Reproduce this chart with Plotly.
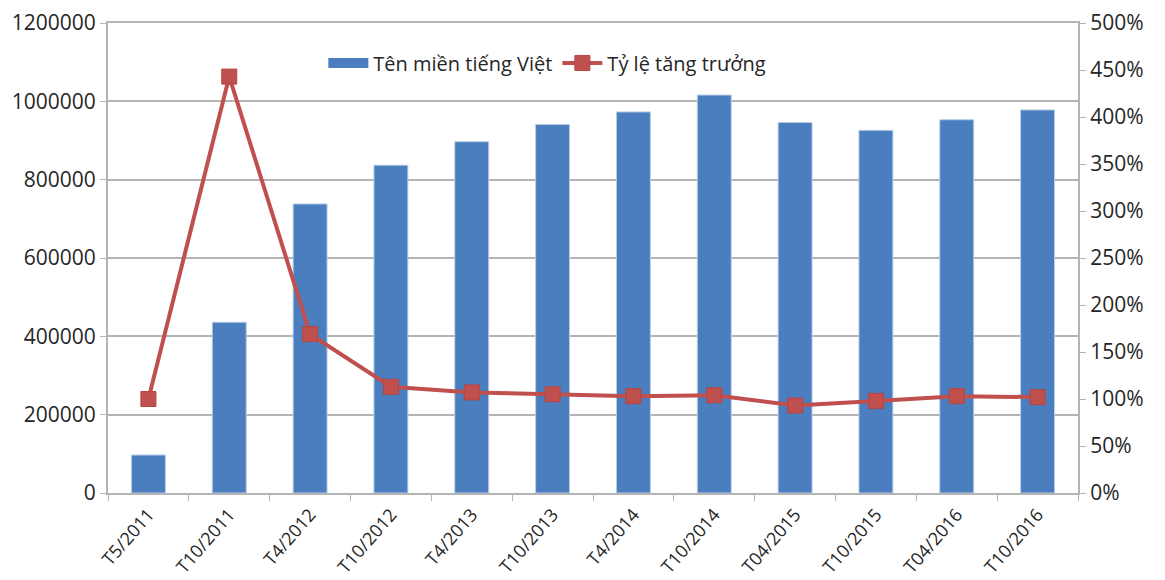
import plotly.graph_objects as go

# so luong ten mien tieng Viet va ty le tang truong
periods = ["T5/2011", "T10/2011", "T4/2012", "T10/2012", "T4/2013", "T10/2013",
           "T4/2014", "T10/2014", "T04/2015", "T10/2015", "T04/2016", "T10/2016"]
domains = [97000, 436000, 738000, 837000, 897000, 941000,
           973000, 1016000, 946000, 926000, 953000, 978000]
growth_pct = [100, 443, 169, 113, 107, 105, 103, 104, 93, 98, 103, 102]

bar_color = "#4A7EBF"
line_color = "#C0504D"
grid_color = "#B4B4B4"
font_family = "Open Sans"

fig = go.Figure()

fig.add_trace(
    go.Bar(
        x=periods,
        y=domains,
        name="Tên miền tiếng Việt",
        marker=dict(color=bar_color, line=dict(color="#B9CDE5", width=1)),
        showlegend=False,
        yaxis="y",
    )
)

# legend proxy so the bar swatch is a wide rectangle like in excel
fig.add_trace(
    go.Scatter(
        x=[None],
        y=[None],
        name="Tên miền tiếng Việt",
        mode="lines",
        line=dict(color=bar_color, width=14),
        yaxis="y",
    )
)

fig.add_trace(
    go.Scatter(
        x=periods,
        y=growth_pct,
        name="Tỷ lệ tăng trưởng",
        mode="lines+markers",
        line=dict(color=line_color, width=4),
        marker=dict(symbol="square", size=15, color=line_color,
                    line=dict(color="#B84440", width=1)),
        yaxis="y2",
    )
)

axis_common = dict(
    showline=True,
    linecolor=grid_color,
    linewidth=2,
    ticks="outside",
    ticklen=6,
    tickcolor=grid_color,
    automargin=False,
)

fig.update_layout(
    width=1165,
    height=580,
    margin=dict(l=100, r=95, t=15, b=95),
    plot_bgcolor="white",
    paper_bgcolor="white",
    font=dict(family=font_family, color="#262626", size=20),
    bargap=0.58,
    showlegend=True,
    legend=dict(
        orientation="h",
        x=0.222,
        y=0.915,
        xanchor="left",
        yanchor="middle",
        font=dict(size=20),
        bgcolor="rgba(0,0,0,0)",
        itemwidth=40,
    ),
    xaxis=dict(
        type="category",
        range=[-0.5, 11.5],
        tickangle=-49,
        showgrid=False,
        tickson="boundaries",
        tickfont=dict(size=18),
        ticklabelstandoff=2,
        mirror=True,
        **axis_common,
    ),
    yaxis=dict(
        range=[0, 1200000],
        dtick=200000,
        tickformat="d",
        showgrid=True,
        gridcolor=grid_color,
        gridwidth=1.5,
        zeroline=False,
        tickfont=dict(size=21),
        **axis_common,
    ),
    yaxis2=dict(
        overlaying="y",
        side="right",
        range=[0, 500],
        dtick=50,
        ticksuffix="%",
        showgrid=False,
        zeroline=False,
        tickfont=dict(size=21),
        **axis_common,
    ),
)

fig.write_html("out.html")
